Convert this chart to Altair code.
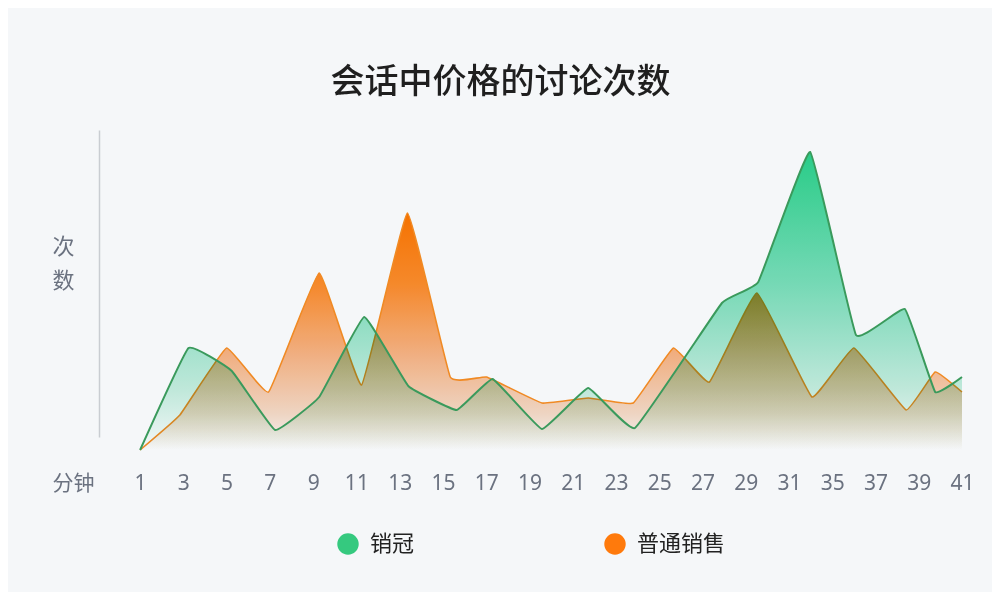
import altair as alt
import pandas as pd

# ---- data ----
x_labels = ["1", "3", "5", "7", "9", "11", "13", "15", "17", "19",
            "21", "23", "25", "27", "29", "31", "35", "37", "39", "41"]

series_names = ["销冠", "普通销售"]

# positions are in tick-slot units (0 = "1", 19 = "41")
champ_pos = [0.0, 1.12, 2.12, 3.12, 4.14, 5.18, 6.20, 7.32, 8.15, 9.29,
             10.36, 11.44, 13.45, 14.29, 15.49, 16.55, 17.68, 18.38, 19.0]
champ_val = [0.0, 10.2, 7.9, 2.0, 5.3, 13.3, 6.4, 4.0, 7.1, 2.1,
             6.2, 2.2, 14.7, 16.8, 29.8, 11.5, 14.1, 5.8, 7.3]

normal_pos = [0.0, 0.92, 2.0, 2.97, 4.14, 5.12, 6.18, 7.17, 8.01, 9.29,
              10.36, 11.40, 12.33, 13.16, 14.26, 15.53, 16.50, 17.71, 18.38, 19.0]
normal_val = [0.0, 3.5, 10.2, 5.8, 17.7, 6.5, 23.7, 7.3, 7.3, 4.7,
              5.2, 4.7, 10.2, 6.8, 15.7, 5.3, 10.2, 4.0, 7.8, 5.8]

# ---- styling ----
BG = "#f5f7f9"
GREEN_LINE = "#3a9a5c"
ORANGE_LINE = "#f08a24"
LEG_GREEN = "#35c97f"
LEG_ORANGE = "#ff7a0c"
CJK = "Noto Sans CJK SC"
INTERP = "cardinal"
TENSION = 0.72

df = pd.concat([
    pd.DataFrame({"pos": champ_pos, "val": champ_val, "series": series_names[0]}),
    pd.DataFrame({"pos": normal_pos, "val": normal_val, "series": series_names[1]}),
], ignore_index=True)

label_js = "[" + ",".join("'%s'" % s for s in x_labels) + "]"

x_enc = alt.X(
    "pos:Q",
    scale=alt.Scale(domain=[-0.95, 19], nice=False, zero=False),
    axis=alt.Axis(
        values=list(range(len(x_labels))),
        labelExpr=label_js + "[round(datum.value)]",
        domain=False, ticks=False, tickSize=0, grid=False,
        labelFont="Noto Sans", labelFontSize=21, labelColor="#6b7280",
        labelPadding=46, labelBaseline="middle", labelFlush=False,
        title="分钟", titleFont=CJK, titleFontSize=21, titleFontWeight="normal",
        titleColor="#6b7280", titleX=-26, titleY=46, titleAlign="center",
        titleBaseline="middle", titleAngle=0,
    ),
)

y_enc = alt.Y(
    "val:Q",
    scale=alt.Scale(domain=[1.3, 32], nice=False, zero=False),
    axis=alt.Axis(
        labels=False, ticks=False, grid=False,
        domain=True, domainColor="#c9cdd2", domainWidth=1.5,
        title=["次", "数"], titleFont=CJK, titleFontSize=22,
        titleFontWeight="normal", titleColor="#6b7280", titleAngle=0,
        titleX=-36, titleY=106, titleAlign="center", titleBaseline="top",
        titleLineHeight=34,
    ),
)


def grad(stops):
    return alt.Gradient(
        gradient="linear",
        stops=[alt.GradientStop(color=c, offset=o) for o, c in stops],
        x1=0, x2=0, y1=0, y2=1,
    )


green_grad = grad([(0, "#2ad38b"), (0.45, "#7ce0bb"), (0.8, "#c8f0e0"), (1, "#ffffff")])
orange_grad = grad([(0, "#ff7600"), (0.3, "#ff8d2c"), (0.6, "#fab585"),
                    (0.85, "#f8dcc8"), (1, "#ffffff")])

base = alt.Chart(df)
sel_o = alt.datum.series == series_names[1]
sel_g = alt.datum.series == series_names[0]

area_o = base.transform_filter(sel_o).mark_area(
    interpolate=INTERP, tension=TENSION, color=orange_grad, blend="multiply"
).encode(x=x_enc, y=y_enc, y2=alt.datum(0))

line_o = base.transform_filter(sel_o).mark_line(
    interpolate=INTERP, tension=TENSION, color=ORANGE_LINE, strokeWidth=1.6
).encode(x=x_enc, y=y_enc)

area_g = base.transform_filter(sel_g).mark_area(
    interpolate=INTERP, tension=TENSION, color=green_grad, blend="multiply"
).encode(x=x_enc, y=y_enc, y2=alt.datum(0))

line_g = base.transform_filter(sel_g).mark_line(
    interpolate=INTERP, tension=TENSION, color=GREEN_LINE, strokeWidth=2
).encode(x=x_enc, y=y_enc)

legend_pts = base.mark_point(filled=True, size=0, opacity=1).encode(
    x=x_enc, y=y_enc,
    color=alt.Color(
        "series:N",
        scale=alt.Scale(domain=series_names, range=[LEG_GREEN, LEG_ORANGE]),
        legend=alt.Legend(
            title=None, orient="none", direction="horizontal",
            legendX=238, legendY=403, padding=0,
            symbolType="circle", symbolSize=460, symbolStrokeWidth=0,
            labelFont=CJK, labelFontSize=22, labelColor="#222222",
            labelOffset=11, columnPadding=189,
        ),
    ),
)

chart = alt.layer(area_o, line_o, area_g, line_g, legend_pts).properties(
    width=863, height=307,
    autosize=alt.AutoSizeParams(type="none"),
    padding={"left": 91, "top": 122, "right": 30, "bottom": 155},
    background=BG,
    title=alt.TitleParams(
        "会话中价格的讨论次数", font=CJK, fontSize=34, fontWeight=500,
        color="#1f1f1f", anchor="middle", dx=-30, offset=30,
    ),
).configure_view(stroke=None)

chart.save("out.html", embed_options={"renderer": "svg", "actions": False})
